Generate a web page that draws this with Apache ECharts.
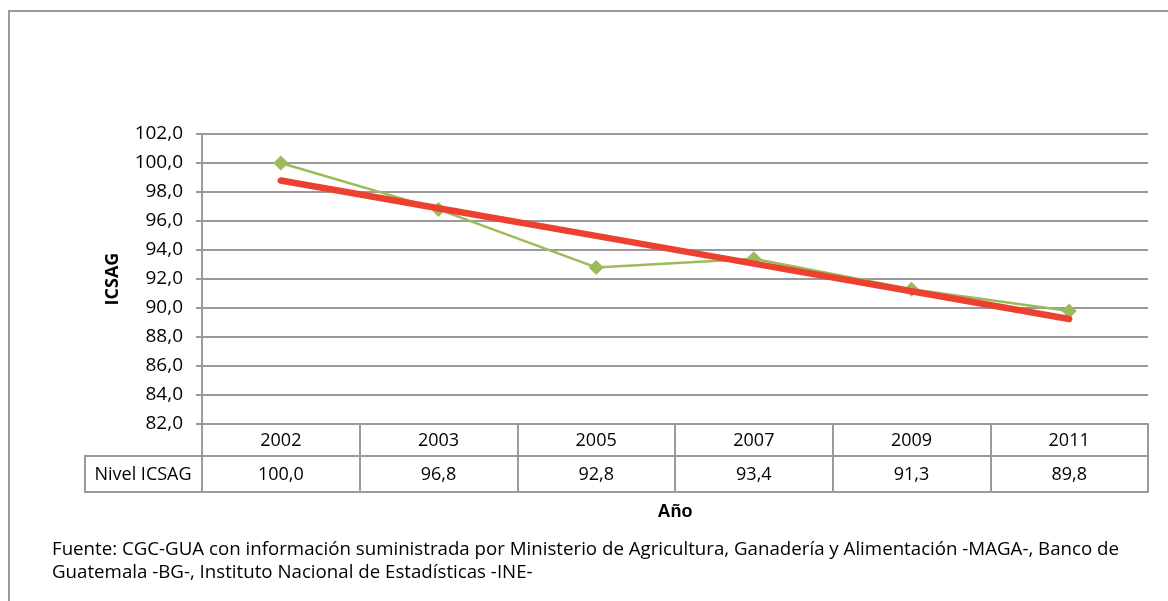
<!DOCTYPE html>
<html>
<head>
<meta charset="utf-8">
<script src="https://cdn.jsdelivr.net/npm/echarts@6/dist/echarts.min.js"></script>
<style>
  html, body { margin: 0; padding: 0; background: #fff; }
  #main { width: 1168px; height: 601px; }
</style>
</head>
<body>
<div id="main"></div>
<script>
// chart data
var years = ['2002', '2003', '2005', '2007', '2009', '2011'];
var icsag = [100.0, 96.8, 92.8, 93.4, 91.3, 89.8];
var yTicks = { min: 82, max: 102, step: 2 };
var fuente = 'Fuente: CGC-GUA con información suministrada por Ministerio de Agricultura, Ganadería y Alimentación -MAGA-, Banco de\nGuatemala -BG-, Instituto Nacional de Estadísticas -INE-';

function coma(v) { return v.toFixed(1).replace('.', ','); }

// linear trendline like Excel (least squares over category index)
function trend(vals) {
  var n = vals.length, sx = 0, sy = 0, sxy = 0, sxx = 0;
  vals.forEach(function (v, i) { sx += i; sy += v; sxy += i * v; sxx += i * i; });
  var b = (n * sxy - sx * sy) / (n * sxx - sx * sx);
  var a = (sy - b * sx) / n;
  return vals.map(function (v, i) { return +(a + b * i).toFixed(3); });
}

var gray = '#9a9a9a';
var txtFont = 'Open Sans';

var myChart = echarts.init(document.getElementById('main'));

var option = {
  animation: false,
  grid: { left: 202, right: 20, top: 134, bottom: 177 },
  xAxis: [
    {
      type: 'category',
      data: years,
      boundaryGap: true,
      axisLine: { lineStyle: { color: gray, width: 2 } },
      axisTick: { show: true, interval: 0, length: 68, lineStyle: { color: gray, width: 2 } },
      axisLabel: { interval: 0, margin: 8, fontSize: 18, color: '#000', fontFamily: txtFont }
    },
    {
      type: 'category',
      data: icsag.map(coma),
      position: 'bottom',
      offset: 32,
      axisLine: { show: true, lineStyle: { color: gray, width: 2 } },
      axisTick: { show: false },
      axisLabel: { interval: 0, margin: 10, fontSize: 18, color: '#000', fontFamily: txtFont }
    },
    {
      type: 'category',
      data: years,
      position: 'bottom',
      offset: 68,
      axisLine: { show: true, lineStyle: { color: gray, width: 2 } },
      axisTick: { show: false },
      axisLabel: { show: false },
      name: 'Año',
      nameLocation: 'middle',
      nameGap: 11,
      nameTextStyle: { fontSize: 18, fontWeight: 'bold', color: '#000', fontFamily: 'Liberation Sans' }
    }
  ],
  yAxis: {
    type: 'value',
    min: yTicks.min,
    max: yTicks.max,
    interval: yTicks.step,
    axisLine: { show: true, lineStyle: { color: gray, width: 2 } },
    axisTick: { show: true, length: 6, lineStyle: { color: gray, width: 2 } },
    axisLabel: { fontSize: 19, color: '#000', margin: 19, fontFamily: txtFont, formatter: coma },
    splitLine: { lineStyle: { color: gray, width: 2 } },
    name: 'ICSAG',
    nameLocation: 'middle',
    nameGap: 80,
    nameTextStyle: { fontSize: 18, fontWeight: 'bold', color: '#000', fontFamily: txtFont }
  },
  graphic: [
    {
      type: 'rect',
      shape: { x: 9, y: 11, width: 1200, height: 640 },
      style: { fill: 'none', stroke: gray, lineWidth: 2 },
      silent: true
    },
    {
      type: 'rect',
      shape: { x: 85, y: 456, width: 117, height: 36 },
      style: { fill: 'none', stroke: gray, lineWidth: 2 },
      silent: true
    },
    {
      type: 'text',
      x: 143, y: 475,
      style: { text: 'Nivel ICSAG', fontSize: 18, fill: '#000', fontFamily: txtFont, align: 'center', verticalAlign: 'middle' }
    },
    {
      type: 'text',
      left: 52, top: 538,
      style: { text: fuente, fontSize: 18.7, lineHeight: 23, fill: '#000', fontFamily: txtFont }
    }
  ],
  series: [
    {
      name: 'Nivel ICSAG',
      type: 'line',
      data: icsag,
      symbol: 'diamond',
      symbolSize: 15,
      itemStyle: { color: '#9bbb59' },
      lineStyle: { color: '#9bbb59', width: 2.5 },
      z: 2
    },
    {
      name: 'Tendencia',
      type: 'line',
      data: trend(icsag),
      symbol: 'none',
      lineStyle: { color: '#ec4130', width: 6.5, cap: 'round' },
      z: 3
    }
  ]
};

option && myChart.setOption(option);
</script>
</body>
</html>
